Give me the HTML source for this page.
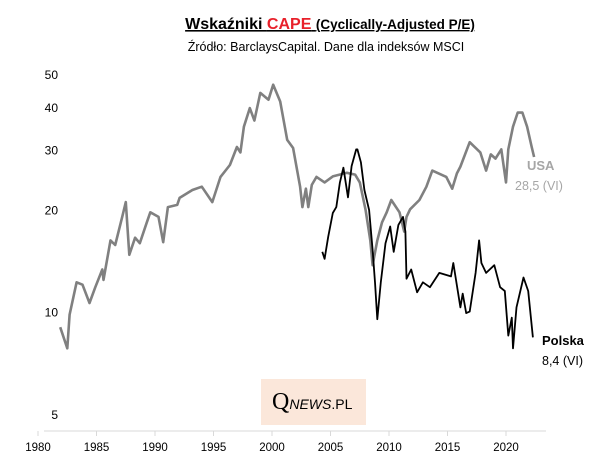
<!DOCTYPE html>
<html><head><meta charset="utf-8"><style>
body{margin:0;background:#fff;font-family:"Liberation Sans",sans-serif;}
svg{display:block}
</style></head><body>
<svg width="608" height="454" viewBox="0 0 608 454">
<text x="330" y="29" text-anchor="middle" font-weight="bold" font-size="16" text-decoration="underline">Wskaźniki <tspan fill="#e8202a">CAPE</tspan> <tspan font-size="13.5">(Cyclically-Adjusted P/E)</tspan></text>
<text x="326" y="51" text-anchor="middle" font-size="12.5">Źródło:  BarclaysCapital. Dane dla indeksów MSCI</text>
<rect x="261" y="379" width="105" height="46" fill="#fbe7da"/>
<text x="272" y="409" font-family="Liberation Serif,serif" font-size="24">Q<tspan font-family="Liberation Sans,sans-serif" font-size="14" font-style="italic">NEWS</tspan><tspan font-family="Liberation Sans,sans-serif" font-size="14">.PL</tspan></text>
<line x1="44" y1="431" x2="546" y2="431" stroke="#d9d9d9" stroke-width="1"/>
<g id="yticks"></g><g id="xticks"></g><g id="series"></g>
<text x="527" y="170" font-size="13" font-weight="bold" fill="#a6a6a6">USA</text>
<text x="515" y="190" font-size="12.5" fill="#a6a6a6">28,5 (VI)</text>
<text x="542" y="345" font-size="13" font-weight="bold">Polska</text>
<text x="542" y="365" font-size="12.5">8,4 (VI)</text>
</svg>
<script>
const yTicks=[5,10,20,30,40,50];
const xTicks=[1980,1985,1990,1995,2000,2005,2010,2015,2020];
const usYears=[1981.9,1982.5,1982.7,1983.3,1983.8,1984.4,1984.9,1985.5,1985.6,1986.2,1986.6,1987.2,1987.5,1987.8,1988.3,1988.7,1989.3,1989.6,1990.3,1990.7,1991.1,1991.9,1992.1,1993.2,1994,1994.9,1995.6,1996.4,1997,1997.3,1997.6,1998.1,1998.5,1999,1999.7,2000.1,2000.7,2001.3,2001.8,2002.4,2002.6,2002.9,2003.1,2003.4,2003.8,2004.5,2005.2,2006.4,2007.1,2007.5,2008,2008.4,2008.6,2009.0,2009.4,2009.8,2010.2,2010.9,2011.3,2011.5,2011.8,2012.6,2013.2,2013.7,2014.9,2015.4,2015.8,2016.1,2016.9,2017.8,2018.3,2018.7,2019.1,2019.6,2020.0,2020.2,2020.6,2021.0,2021.4,2021.8,2022.2,2022.4];
const usValues=[9.0,7.8,9.8,12.2,12.0,10.6,11.8,13.3,12.4,16.2,15.7,19.0,21.0,14.7,16.5,15.9,18.3,19.6,19.0,16.0,20.3,20.6,21.6,22.8,23.3,21.0,24.9,27.0,30.5,29.4,35.0,39.7,36.5,44.0,42.0,46.5,41.5,32.0,30.3,23.3,20.3,23.0,20.3,23.6,24.9,24.0,25.0,25.6,25.3,24.0,19.9,16.2,13.7,16.2,18.3,19.6,21.3,19.6,17.2,19.0,20.0,21.3,23.3,26.0,24.9,23.0,25.5,26.7,31.5,29.4,26.0,29.0,28.2,30.0,24.0,30.0,35.0,38.5,38.5,35.0,30.5,28.5];
const plYears=[2004.3,2004.5,2004.8,2005.2,2005.5,2005.8,2006.1,2006.5,2006.8,2007.2,2007.3,2007.6,2007.9,2008.3,2008.6,2008.8,2009.0,2009.3,2009.7,2010.1,2010.4,2010.8,2011.2,2011.4,2011.5,2011.9,2012.4,2012.9,2013.5,2014.3,2015.3,2015.5,2016.1,2016.3,2016.6,2016.9,2017.4,2017.7,2017.9,2018.3,2019.0,2019.5,2019.9,2020.2,2020.5,2020.6,2020.9,2021.5,2021.9,2022.3];
const plValues=[15.0,14.3,16.6,19.5,20.3,24.0,26.5,21.7,26.8,30.0,30.0,27.5,22.8,19.9,15.2,12.2,9.5,12.2,15.9,17.8,15.0,18.0,19.0,17.2,12.5,13.3,11.4,12.2,11.8,13.0,12.7,13.9,10.3,11.3,9.9,10.0,13.0,16.2,13.9,13.0,13.7,11.8,11.5,8.5,9.6,7.8,10.3,12.6,11.5,8.4];
const NS="http://www.w3.org/2000/svg";
const x=v=>38+(v-1980)*11.7;
const y=v=>414-340*Math.log10(v/5);
const yt=document.getElementById('yticks'),xt=document.getElementById('xticks'),sg=document.getElementById('series');
yTicks.forEach(t=>{const e=document.createElementNS(NS,'text');e.setAttribute('x',58);e.setAttribute('y',y(t)+5);e.setAttribute('text-anchor','end');e.setAttribute('font-size','12');e.textContent=t;


yt.appendChild(e);});
xTicks.forEach(t=>{const l=document.createElementNS(NS,'line');l.setAttribute('x1',x(t));l.setAttribute('x2',x(t));l.setAttribute('y1',431);l.setAttribute('y2',436);l.setAttribute('stroke','#d9d9d9');


xt.appendChild(l);
const e=document.createElementNS(NS,'text');e.setAttribute('x',x(t));e.setAttribute('y',451);e.setAttribute('text-anchor','middle');e.setAttribute('font-size','11.5');e.textContent=t;


xt.appendChild(e);});
function line(xs,vs,col,w,name){const p=document.createElementNS(NS,'polyline');p.setAttribute('points',xs.map((a,i)=>x(a).toFixed(1)+','+y(vs[i]).toFixed(1)).join(' '));p.setAttribute('fill','none');p.setAttribute('stroke',col);p.setAttribute('stroke-width',w);p.setAttribute('stroke-linejoin','round');


sg.appendChild(p);}
line(usYears,usValues,'#808080',2.6,'usa-series');
line(plYears,plValues,'#000',1.8,'polska-series');
</script>
</body></html>
